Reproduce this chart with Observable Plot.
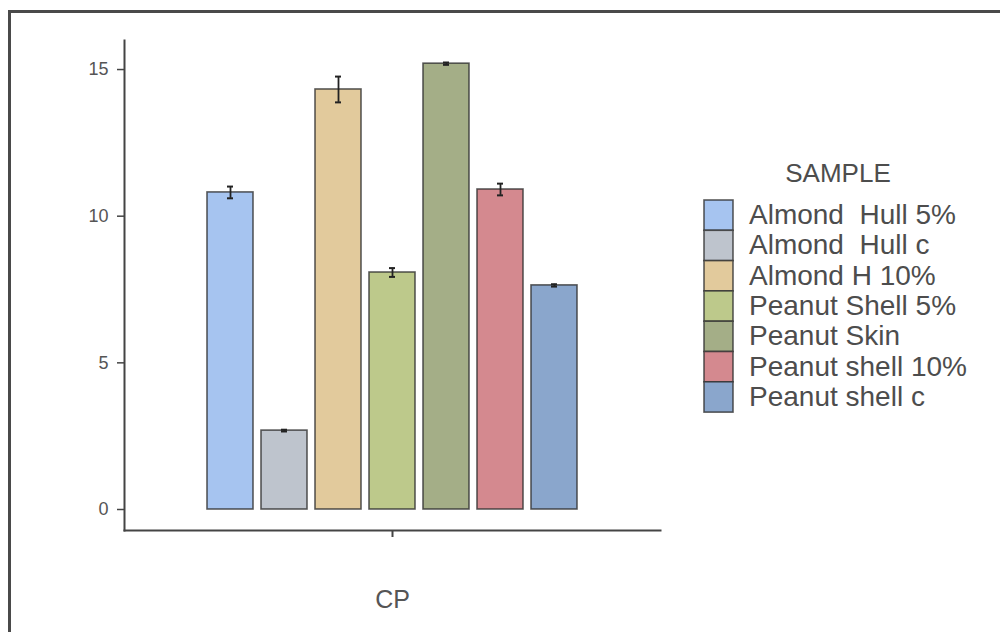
<!DOCTYPE html>
<html>
<head>
<meta charset="utf-8">
<script src="https://cdn.jsdelivr.net/npm/d3@7"></script>
<script src="https://cdn.jsdelivr.net/npm/@observablehq/plot@0.6"></script>
<style>
  html, body { margin: 0; padding: 0; background: #fff; }
  #wrap { position: relative; width: 1000px; height: 632px; overflow: hidden; background: #fff; }
  #border { position: absolute; left: 8px; top: 10px; width: 1100px; height: 800px;
            border-top: 3px solid #4a4a4a; border-left: 3px solid #4a4a4a; box-sizing: border-box; }
  #chart, #legend { position: absolute; left: 0; top: 0; }
</style>
</head>
<body>
<div id="wrap">
  <div id="border"></div>
  <div id="chart"></div>
  <svg id="legend" width="1000" height="632"></svg>
</div>
<script>
const variable = "CP";
const samples = ["Almond  Hull 5%", "Almond  Hull c", "Almond H 10%", "Peanut Shell 5%", "Peanut Skin", "Peanut shell 10%", "Peanut shell c"];
const values = [10.81, 2.69, 14.32, 8.08, 15.20, 10.91, 7.64];
const errors = [0.20, 0.03, 0.44, 0.15, 0.04, 0.20, 0.04];
const colors = ["#a6c4f0", "#bec4cd", "#e2ca9c", "#bdc98b", "#a4ae87", "#d4898f", "#8aa6cc"];
const yTicks = [0, 5, 10, 15];
const legendTitle = "SAMPLE";

const data = samples.map((s, i) => ({sample: s, value: values[i], err: errors[i], variable}));

const font = "'Liberation Sans', Arial, sans-serif";

const chart = Plot.plot({
  width: 1000,
  height: 632,
  marginLeft: 124,
  marginRight: 340,
  marginTop: 40,
  marginBottom: 102,
  style: {fontFamily: font, color: "#555", background: "transparent", overflow: "visible"},
  fx: {domain: [variable], padding: 0, label: null},
  x: {domain: samples, paddingInner: 0.15, paddingOuter: 1.51, axis: null},
  y: {domain: [-0.716, 15.99]},
  color: {domain: samples, range: colors},
  marks: [
    Plot.frame({anchor: "left", stroke: "#444", strokeWidth: 2}),
    Plot.frame({anchor: "bottom", stroke: "#444", strokeWidth: 2}),
    Plot.barY(data, {fx: "variable", x: "sample", y: "value", fill: "sample",
      stroke: "#333", strokeOpacity: 0.8, strokeWidth: 1.6}),
    Plot.ruleX(data, {fx: "variable", x: "sample", y1: d => d.value - d.err, y2: d => d.value + d.err,
      stroke: "#222", strokeWidth: 1.8}),
    Plot.tickY(data, {fx: "variable", x: "sample", y: d => d.value - d.err, stroke: "#222", strokeWidth: 2, insetLeft: 20, insetRight: 20}),
    Plot.tickY(data, {fx: "variable", x: "sample", y: d => d.value + d.err, stroke: "#222", strokeWidth: 2, insetLeft: 20, insetRight: 20}),
    Plot.axisY({ticks: yTicks, tickSize: 7, tickPadding: 9, fontSize: 18, label: null, stroke: "#444", strokeWidth: 1.5}),
    Plot.axisFx({anchor: "bottom", tickSize: 7, tickPadding: 53, fontSize: 25, label: null, stroke: "#444", strokeWidth: 2})
  ]
});
document.getElementById("chart").appendChild(chart);

// Legend built from the same arrays
const leg = d3.select("#legend").style("font-family", font);
const lx = 704, ly = 200, sw = 29, sh = 30.3;
leg.append("text").attr("x", 838).attr("y", 182).attr("text-anchor", "middle")
  .attr("font-size", 26).attr("fill", "#4d4d4d").text(legendTitle);
const g = leg.selectAll("g.item").data(samples).join("g").attr("class", "item")
  .attr("transform", (d, i) => `translate(${lx},${ly + i * sh})`);
g.append("rect").attr("width", sw).attr("height", sh)
  .attr("fill", (d, i) => colors[i]).attr("stroke", "#333").attr("stroke-opacity", 0.8).attr("stroke-width", 1.6);
g.append("text").attr("x", 45).attr("y", 24).attr("font-size", 28).attr("fill", "#4d4d4d")
  .style("white-space", "pre").text(d => d);
</script>
</body>
</html>
